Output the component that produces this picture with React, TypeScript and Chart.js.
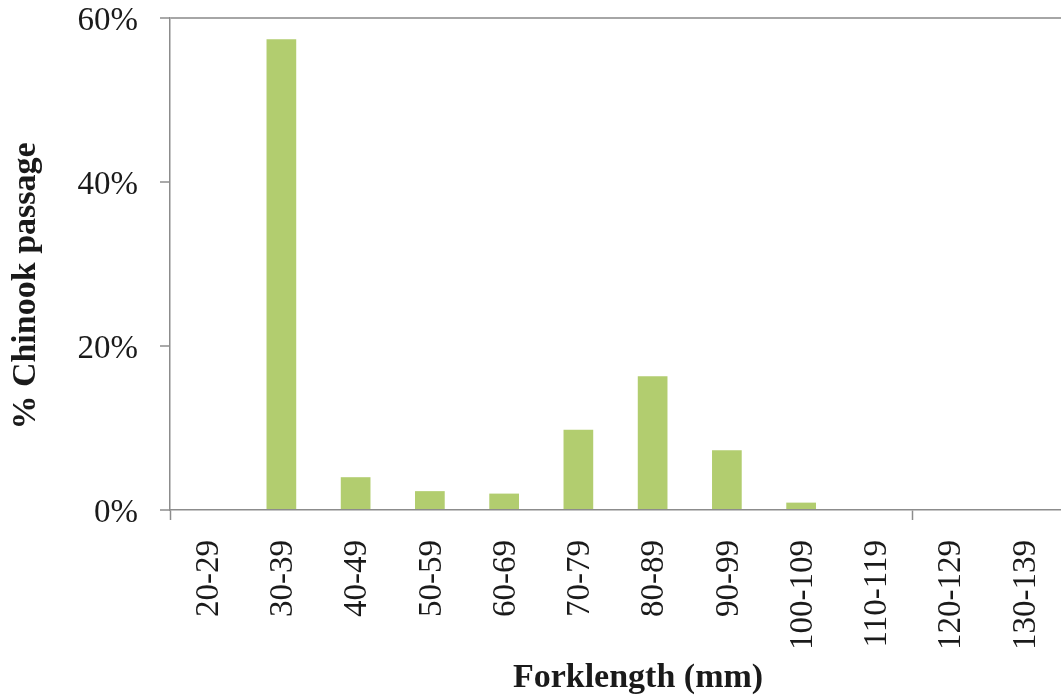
import React, { useEffect, useRef } from "react";
import { Chart, registerables } from "chart.js";

Chart.register(...registerables);

const categories = ["20-29", "30-39", "40-49", "50-59", "60-69", "70-79", "80-89", "90-99", "100-109", "110-119", "120-129", "130-139"];
const passagePercent = [0, 57.4, 4.0, 2.3, 2.0, 9.8, 16.3, 7.3, 0.9, 0, 0, 0];
const yTicks = [0, 20, 40, 60];
const xTitle = "Forklength (mm)";
const yTitle = "% Chinook passage";

const SERIF = "'Liberation Serif', 'Times New Roman', serif";

const axisTitlePlugin = {
  id: "axisTitles",
  afterDraw(chart: any) {
    const ctx = chart.ctx;
    ctx.save();
    ctx.fillStyle = "#1a1a1a";
    ctx.font = `bold 34px ${SERIF}`;
    ctx.textAlign = "center";
    ctx.textBaseline = "middle";
    ctx.fillText(xTitle, 638, chart.height - 20);
    ctx.translate(26, 286);
    ctx.rotate(-Math.PI / 2);
    ctx.fillText(yTitle, 0, 0);
    ctx.restore();
  },
};

export default function App() {
  const ref = useRef<HTMLCanvasElement | null>(null);
  useEffect(() => {
    if (!ref.current) return;
    const chart = new Chart(ref.current, {
      type: "bar",
      data: {
        labels: categories,
        datasets: [
          {
            data: passagePercent,
            backgroundColor: "#b2cd6f",
            borderWidth: 0,
            categoryPercentage: 1,
            barPercentage: 0.4,
          },
        ],
      },
      plugins: [axisTitlePlugin],
      options: {
        animation: false,
        responsive: false,
        layout: { padding: { top: 18, left: 0, right: 0, bottom: 0 } },
        plugins: { legend: { display: false }, tooltip: { enabled: false } },
        scales: {
          x: {
            offset: true,
            afterFit: (s: any) => {
              s.height = 188;
              s.paddingLeft = 0;
              s.paddingRight = 0;
            },
            grid: {
              offset: true,
              drawOnChartArea: false,
              tickLength: 10,
              tickColor: (c: any) => (c.index === 0 || c.index === 10 ? "#8c8c8c" : "rgba(0,0,0,0)"),
              tickWidth: 1.5,
            },
            border: { color: "#8c8c8c", width: 1.5 },
            ticks: {
              autoSkip: false,
              maxRotation: 90,
              minRotation: 90,
              padding: 20,
              labelOffset: 2,
              color: "#1a1a1a",
              font: { family: SERIF, size: 33, lineHeight: 1 },
            },
          },
          y: {
            min: 0,
            max: 60,
            afterFit: (s: any) => {
              s.width = 170;
              s.paddingTop = 0;
              s.paddingBottom = 0;
            },
            afterBuildTicks: (s: any) => {
              s.ticks = yTicks.map((v) => ({ value: v }));
            },
            grid: {
              drawOnChartArea: true,
              color: (c: any) => (c.tick && c.tick.value === 60 ? "#a6a6a6" : "rgba(0,0,0,0)"),
              lineWidth: 2,
              tickLength: 10,
              tickColor: "#8c8c8c",
              tickWidth: 1.5,
            },
            border: { color: "#8c8c8c", width: 1.5 },
            ticks: {
              padding: 22,
              labelOffset: 3,
              color: "#1a1a1a",
              font: { family: SERIF, size: 33, lineHeight: 1 },
              callback: (v: any) => `${v}%`,
            },
          },
        },
      },
    });
    return () => chart.destroy();
  }, []);
  return (
    <div style={{ position: "fixed", left: 0, top: 0, width: 1061, height: 698, background: "#fff" }}>
      <canvas ref={ref} width={1061} height={698} style={{ display: "block", width: 1061, height: 698 }} />
    </div>
  );
}
